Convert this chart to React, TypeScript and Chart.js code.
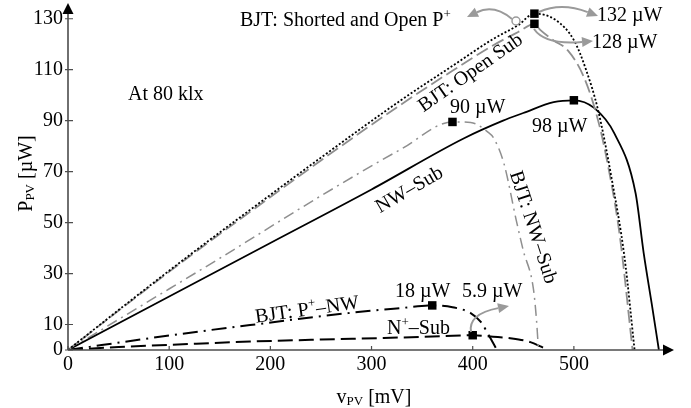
import { useEffect, useRef } from "react";
import { Chart, registerables } from "chart.js";
Chart.register(...registerables);

// ---- tick values ----
const xTickValues = [0, 100, 200, 300, 400, 500];
const yTickValues = [0, 10, 30, 50, 70, 90, 110, 130];

// ---- series (v in mV, P in µW) ----
const vShorted = [0, 60, 120, 180, 250, 329, 380, 420, 445, 461, 482, 500, 512, 524, 537, 550, 560];
const pShorted = [0, 18.8, 37.2, 55, 75.5, 98, 111.5, 122, 127.5, 132, 129.5, 121.6, 110, 94, 68, 36.5, 0];

const vOpenSub = [0, 60, 120, 180, 250, 329, 380, 420, 445, 461, 467, 480, 494, 510, 524, 534, 545, 558];
const pOpenSub = [0, 18.5, 36.7, 54.2, 74.4, 96.3, 109.6, 119.5, 124.8, 128, 125.5, 121.5, 117.6, 107, 90, 71.8, 45.9, 0];

const vNwSub = [0, 100, 200, 300, 391, 430, 450, 480, 500, 520, 540, 561, 569, 577, 584];
const pNwSub = [0, 21, 42, 63, 83, 90, 93, 97.3, 98, 95, 85, 61.5, 38, 18, 0];

const vBjtNwSub = [0, 75, 150, 250, 330, 380, 398, 415, 421, 431, 443, 450, 460, 463, 465];
const pBjtNwSub = [0, 18, 36, 60.5, 79, 89.5, 89.3, 85.5, 83, 73, 51, 39, 24, 12, 0];

const vPNw = [0, 100, 180, 289, 330, 360, 380, 398, 408, 417, 424];
const pPNw = [0, 5.7, 9.8, 15, 16.5, 17.5, 16.8, 14.5, 11, 5, 0];

const vNSub = [0, 50, 100, 180, 250, 312, 370, 400, 420, 437, 457, 467, 474];
const pNSub = [0, 1.2, 2, 3.3, 4.1, 4.7, 5.4, 5.8, 5.2, 4.6, 3.1, 1.4, 0];

const peakV = [461, 461, 500, 380, 360, 400];
const peakP = [132, 128, 98, 89.5, 17.5, 5.8];

const FONT = '"Liberation Serif", "Times New Roman", serif';
const GRAY = "#8f8f8f";
const ARROW_GRAY = "#9a9a9a";

type Seg = [string, "n" | "sup" | "sub"];

function drawRich(
  ctx: CanvasRenderingContext2D,
  segs: Seg[],
  x: number,
  y: number,
  rot: number,
  align: "left" | "center",
  vcenter: boolean
) {
  ctx.save();
  ctx.translate(x, y);
  ctx.rotate((rot * Math.PI) / 180);
  ctx.fillStyle = "#000";
  ctx.textBaseline = "alphabetic";
  ctx.textAlign = "left";
  const fontOf = (k: string) => (k === "n" ? `20px ${FONT}` : `13px ${FONT}`);
  let total = 0;
  const widths = segs.map(([t, k]) => {
    ctx.font = fontOf(k);
    const w = ctx.measureText(t).width;
    total += w;
    return w;
  });
  let cx = align === "center" ? -total / 2 : 0;
  const dy = vcenter ? 6.5 : 0;
  segs.forEach(([t, k], i) => {
    ctx.font = fontOf(k);
    const off = k === "sup" ? -8 : k === "sub" ? 1.5 : 0;
    ctx.fillText(t, cx, dy + off);
    cx += widths[i];
  });
  ctx.restore();
}

function curvedArrow(
  ctx: CanvasRenderingContext2D,
  x0: number, y0: number, cx: number, cy: number, x1: number, y1: number
) {
  const ang = Math.atan2(y1 - cy, x1 - cx);
  const L = 11, W = 5;
  const bx = x1 - L * Math.cos(ang), by = y1 - L * Math.sin(ang);
  ctx.save();
  ctx.strokeStyle = ARROW_GRAY;
  ctx.fillStyle = ARROW_GRAY;
  ctx.lineWidth = 2;
  ctx.beginPath();
  ctx.moveTo(x0, y0);
  ctx.quadraticCurveTo(cx, cy, bx, by);
  ctx.stroke();
  ctx.beginPath();
  ctx.moveTo(x1, y1);
  ctx.lineTo(bx - W * Math.sin(ang), by + W * Math.cos(ang));
  ctx.lineTo(bx + W * Math.sin(ang), by - W * Math.cos(ang));
  ctx.closePath();
  ctx.fill();
  ctx.restore();
}

const decorPlugin = {
  id: "decor",
  afterDraw(chart: any) {
    const ctx: CanvasRenderingContext2D = chart.ctx;
    const xs = chart.scales.x;
    const ys = chart.scales.y;
    const x0 = xs.getPixelForValue(0);
    const y0 = ys.getPixelForValue(0);

    // axes
    ctx.save();
    ctx.strokeStyle = "#4d4d4d";
    ctx.lineWidth = 1.6;
    ctx.beginPath();
    ctx.moveTo(x0, y0);
    ctx.lineTo(chart.chartArea.right - 4, y0);
    ctx.moveTo(x0, y0);
    ctx.lineTo(x0, chart.chartArea.top + 6);
    ctx.stroke();
    // ticks
    ctx.lineWidth = 1.2;
    ctx.beginPath();
    yTickValues.forEach((v) => {
      const py = ys.getPixelForValue(v);
      ctx.moveTo(x0 - 3, py);
      ctx.lineTo(x0 + 5, py);
    });
    xTickValues.forEach((v) => {
      const px = xs.getPixelForValue(v);
      ctx.moveTo(px, y0);
      ctx.lineTo(px, y0 - 4);
    });
    ctx.stroke();
    // arrowheads
    ctx.fillStyle = "#000";
    const r = chart.chartArea.right;
    ctx.beginPath();
    ctx.moveTo(r + 4, y0);
    ctx.lineTo(r - 7, y0 - 5.5);
    ctx.lineTo(r - 7, y0 + 5.5);
    ctx.closePath();
    ctx.fill();
    const t = chart.chartArea.top;
    ctx.beginPath();
    ctx.moveTo(x0, t - 3);
    ctx.lineTo(x0 - 5.5, t + 8);
    ctx.lineTo(x0 + 5.5, t + 8);
    ctx.closePath();
    ctx.fill();
    ctx.restore();

    // axis titles
    drawRich(ctx, [["v", "n"], ["PV", "sub"], [" [mV]", "n"]], 374, 403, 0, "center", false);
    drawRich(ctx, [["P", "n"], ["PV", "sub"], [" [µW]", "n"]], 32, 173.5, -90, "center", false);

    // annotations
    drawRich(ctx, [["At 80 klx", "n"]], 128, 100, 0, "left", false);
    drawRich(ctx, [["BJT: Shorted and Open P", "n"], ["+", "sup"]], 240, 26, 0, "left", false);
    drawRich(ctx, [["132 µW", "n"]], 597, 21, 0, "left", false);
    drawRich(ctx, [["128 µW", "n"]], 592, 48, 0, "left", false);
    drawRich(ctx, [["90 µW", "n"]], 450, 113, 0, "left", false);
    drawRich(ctx, [["98 µW", "n"]], 532, 132, 0, "left", false);
    drawRich(ctx, [["18 µW", "n"]], 395, 297, 0, "left", false);
    drawRich(ctx, [["5.9 µW", "n"]], 462, 297, 0, "left", false);
    drawRich(ctx, [["N", "n"], ["+", "sup"], ["–Sub", "n"]], 387, 334, 0, "left", false);
    drawRich(ctx, [["NW–Sub", "n"]], 409, 189, -30, "center", true);
    drawRich(ctx, [["BJT: Open Sub", "n"]], 470, 72, -35, "center", true);
    drawRich(ctx, [["BJT: NW–Sub", "n"]], 534, 227, 72, "center", true);
    drawRich(ctx, [["BJT: P", "n"], ["+", "sup"], ["–NW", "n"]], 307, 309, -8, "center", true);

    // arrows
    curvedArrow(ctx, 512, 19, 494, 4, 467, 17);
    curvedArrow(ctx, 539, 12, 561, 2, 598, 16);
    curvedArrow(ctx, 534, 29, 545, 45, 593, 41);
    curvedArrow(ctx, 471, 332, 468, 314, 509, 306);
    // ring marker
    ctx.save();
    ctx.strokeStyle = ARROW_GRAY;
    ctx.lineWidth = 1.5;
    ctx.beginPath();
    ctx.arc(516, 21, 4, 0, Math.PI * 2);
    ctx.stroke();
    ctx.restore();
  },
};

const mk = (xs: number[], ys: number[]) => xs.map((x, i) => ({ x, y: ys[i] }));

export default function App() {
  const ref = useRef<HTMLCanvasElement>(null);
  useEffect(() => {
    const common = { pointRadius: 0, fill: false, cubicInterpolationMode: "monotone" as const };
    const chart = new Chart(ref.current!, {
      type: "line",
      data: {
        datasets: [
          {
            label: "peaks",
            data: mk(peakV, peakP),
            showLine: false,
            pointStyle: "rect",
            pointRadius: 6,
            backgroundColor: "#000",
            borderColor: "#000",
            borderWidth: 0,
          },
          { label: "BJT: Shorted and Open P+", data: mk(vShorted, pShorted), borderColor: "#000", borderWidth: 1.8, borderDash: [2, 2], ...common },
          { label: "BJT: Open Sub", data: mk(vOpenSub, pOpenSub), borderColor: GRAY, borderWidth: 1.8, borderDash: [13, 5], ...common },
          { label: "NW–Sub", data: mk(vNwSub, pNwSub), borderColor: "#000", borderWidth: 1.8, ...common },
          { label: "BJT: NW–Sub", data: mk(vBjtNwSub, pBjtNwSub), borderColor: GRAY, borderWidth: 1.5, borderDash: [11, 5, 2, 5], ...common },
          { label: "BJT: P+–NW", data: mk(vPNw, pPNw), borderColor: "#000", borderWidth: 2, borderDash: [15, 6, 2, 6], ...common },
          { label: "N+–Sub", data: mk(vNSub, pNSub), borderColor: "#000", borderWidth: 2, borderDash: [15, 6], ...common },
        ] as any,
      },
      options: {
        animation: false,
        responsive: false,
        layout: { padding: { top: 5, right: 21, left: 0, bottom: 0 } },
        plugins: { legend: { display: false }, tooltip: { enabled: false } },
        scales: {
          x: {
            type: "linear",
            min: 0,
            max: 595,
            grid: { display: false, drawTicks: false },
            border: { display: false },
            ticks: { font: { family: FONT, size: 20 }, color: "#000", padding: 3, maxRotation: 0 },
            afterBuildTicks: (s: any) => { s.ticks = xTickValues.map((v) => ({ value: v })); },
            afterFit: (s: any) => {
              s.height = 58;
              s.paddingLeft = 0; s.paddingRight = 0; s.paddingTop = 0; s.paddingBottom = 0;
            },
          },
          y: {
            type: "linear",
            min: 0,
            max: 135,
            grid: { display: false, drawTicks: false },
            border: { display: false },
            ticks: { font: { family: FONT, size: 20 }, color: "#000", padding: 5 },
            afterBuildTicks: (s: any) => { s.ticks = yTickValues.map((v) => ({ value: v })); },
            afterFit: (s: any) => {
              s.width = 68;
              s.paddingLeft = 0; s.paddingRight = 0; s.paddingTop = 0; s.paddingBottom = 0;
            },
          },
        },
      },
      plugins: [decorPlugin],
    });
    return () => chart.destroy();
  }, []);
  return (
    <div style={{ position: "fixed", left: 0, top: 0, width: 691, height: 408, background: "#fff" }}>
      <canvas ref={ref} width={691} height={408} style={{ display: "block", width: 691, height: 408 }} />
    </div>
  );
}
